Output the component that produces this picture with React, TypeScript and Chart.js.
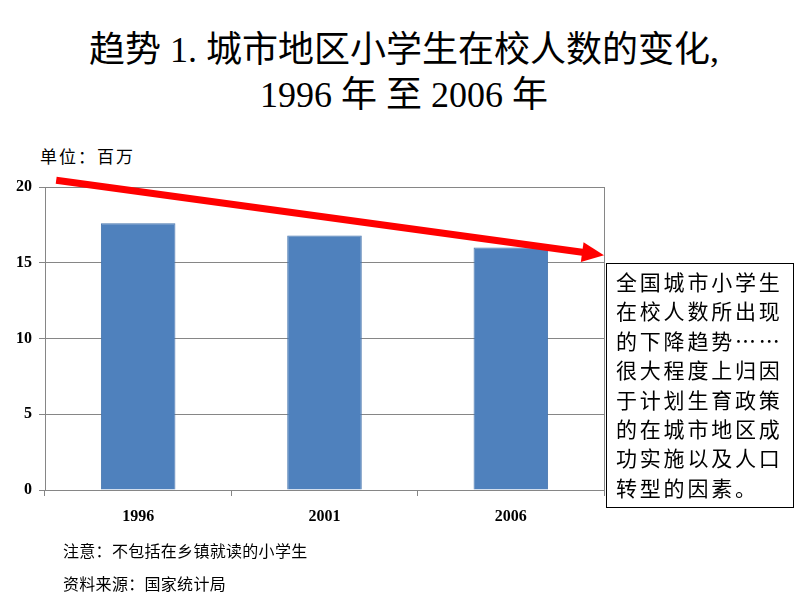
import React, { useEffect, useRef } from "react";
import { Chart, registerables } from "chart.js";

Chart.register(...registerables);

const years = ["1996", "2001", "2006"];
const enrollment = [17.6, 16.8, 16.0];
const yTicks = [0, 5, 10, 15, 20];
// trend arrow in data units: [category index, value]
const arrowFrom = [-0.44, 20.45];
const arrowTo = [2.5, 15.5];

const titleLine1 = "趋势 1. 城市地区小学生在校人数的变化,";
const titleLine2 = "1996 年 至 2006 年";
const unitLabel = "单位：百万";
const boxLines = [
  "全国城市小学生",
  "在校人数所出现",
  "的下降趋势……",
  "很大程度上归因",
  "于计划生育政策",
  "的在城市地区成",
  "功实施以及人口",
  "转型的因素。",
];
const note1 = "注意：不包括在乡镇就读的小学生";
const note2 = "资料来源：国家统计局";

const GRID = "#868686";
const cjk = '"Noto Sans CJK SC", "Noto Sans", sans-serif';
const serifCjk = '"Liberation Serif", "Noto Sans CJK SC", serif';

const framePlugin = {
  id: "frameAndArrow",
  afterDatasetsDraw(chart: any) {
    const { ctx, chartArea, scales } = chart;
    ctx.save();
    // right border of the plot frame
    ctx.strokeStyle = GRID;
    ctx.lineWidth = 1;
    ctx.beginPath();
    ctx.moveTo(Math.round(chartArea.right) + 0.5, chartArea.top);
    ctx.lineTo(Math.round(chartArea.right) + 0.5, chartArea.bottom);
    ctx.stroke();

    // trend arrow
    const x1 = scales.x.getPixelForValue(arrowFrom[0]);
    const y1 = scales.y.getPixelForValue(arrowFrom[1]);
    const x2 = scales.x.getPixelForValue(arrowTo[0]);
    const y2 = scales.y.getPixelForValue(arrowTo[1]);
    const ang = Math.atan2(y2 - y1, x2 - x1);
    const headLen = 22;
    const headHalf = 10;
    const bx = x2 - headLen * Math.cos(ang);
    const by = y2 - headLen * Math.sin(ang);
    ctx.strokeStyle = "#ff0000";
    ctx.fillStyle = "#ff0000";
    ctx.lineWidth = 7;
    ctx.lineCap = "butt";
    ctx.beginPath();
    ctx.moveTo(x1, y1);
    ctx.lineTo(bx + 2 * Math.cos(ang), by + 2 * Math.sin(ang));
    ctx.stroke();
    ctx.beginPath();
    ctx.moveTo(x2, y2);
    ctx.lineTo(bx + headHalf * Math.sin(ang), by - headHalf * Math.cos(ang));
    ctx.lineTo(bx - headHalf * Math.sin(ang), by + headHalf * Math.cos(ang));
    ctx.closePath();
    ctx.fill();
    ctx.restore();
  },
};

export default function App() {
  const ref = useRef<HTMLCanvasElement>(null);

  useEffect(() => {
    if (!ref.current) return;
    const chart = new Chart(ref.current, {
      type: "bar",
      data: {
        labels: years,
        datasets: [
          {
            data: enrollment,
            backgroundColor: "#4F81BD",
            borderColor: "#4675AE",
            borderWidth: 1,
            barPercentage: 0.4,
            categoryPercentage: 1,
          },
        ],
      },
      options: {
        responsive: false,
        animation: false,
        layout: { padding: { top: 27, right: 16, bottom: 10, left: 0 } },
        plugins: {
          legend: { display: false },
          tooltip: { enabled: false },
        },
        scales: {
          x: {
            offset: true,
            grid: {
              display: true,
              offset: true,
              drawOnChartArea: false,
              drawTicks: true,
              tickLength: 6,
              color: GRID,
            },
            border: { display: true, color: GRID },
            ticks: {
              color: "#000",
              padding: 11,
              font: { family: '"Liberation Serif", serif', size: 16, weight: "bold" },
            },
            afterFit: (s: any) => {
              s.height = 40;
            },
          },
          y: {
            min: 0,
            max: 20,
            afterBuildTicks: (s: any) => {
              s.ticks = yTicks.map((v) => ({ value: v }));
            },
            grid: { color: GRID, tickLength: 6 },
            border: { display: true, color: GRID },
            ticks: {
              color: "#000",
              padding: 7,
              font: { family: '"Liberation Serif", serif', size: 16, weight: "bold" },
            },
            afterFit: (s: any) => {
              s.width = 45;
            },
          },
        },
      },
      plugins: [framePlugin],
    });
    return () => chart.destroy();
  }, []);

  return (
    <div
      style={{
        position: "absolute",
        left: 0,
        top: 0,
        width: 800,
        height: 600,
        background: "#fff",
        overflow: "hidden",
      }}
    >
      <div
        style={{
          position: "absolute",
          left: 0,
          top: 28,
          width: 808,
          textAlign: "center",
          fontFamily: serifCjk,
          fontSize: 36,
          lineHeight: "45px",
          color: "#000",
          whiteSpace: "nowrap",
        }}
      >
        <div>{titleLine1}</div>
        <div>{titleLine2}</div>
      </div>
      <div
        style={{
          position: "absolute",
          left: 40,
          top: 145,
          fontFamily: cjk,
          fontSize: 17,
          letterSpacing: 2,
          lineHeight: "22px",
          color: "#000",
          whiteSpace: "nowrap",
        }}
      >
        {unitLabel}
      </div>
      <canvas
        ref={ref}
        width={620}
        height={380}
        style={{ position: "absolute", left: 0, top: 160, width: 620, height: 380 }}
      />
      <div
        style={{
          position: "absolute",
          left: 606,
          top: 263,
          width: 186,
          height: 243,
          border: "1px solid #000",
          boxSizing: "content-box",
          padding: 0,
          fontFamily: cjk,
          fontSize: 21,
          letterSpacing: 2.8,
          lineHeight: "29.4px",
          color: "#000",
          whiteSpace: "nowrap",
        }}
      >
        <div style={{ paddingLeft: 9, paddingTop: 3 }}>
          {boxLines.map((l, i) => (
            <div key={i}>{l}</div>
          ))}
        </div>
      </div>
      <div
        style={{
          position: "absolute",
          left: 63,
          top: 534,
          fontFamily: cjk,
          fontSize: 16,
          letterSpacing: 0.3,
          lineHeight: "33px",
          color: "#000",
          whiteSpace: "nowrap",
        }}
      >
        <div>{note1}</div>
        <div>{note2}</div>
      </div>
    </div>
  );
}
